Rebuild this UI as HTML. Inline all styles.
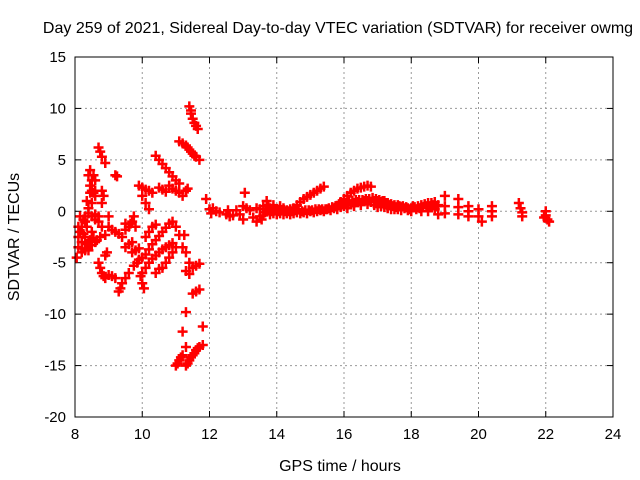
<!DOCTYPE html>
<html><head><meta charset="utf-8"><style>
body{margin:0;background:#fff;}
svg{display:block;font-family:"Liberation Sans",sans-serif;}
</style></head><body>
<svg id="chart" width="640" height="480">
<text x="338" y="33" font-size="16" text-anchor="middle">Day 259 of 2021, Sidereal Day-to-day VTEC variation (SDTVAR) for receiver owmg</text>
<text x="340" y="471" font-size="16" text-anchor="middle">GPS time / hours</text>
<text transform="translate(19,237) rotate(-90)" font-size="16" text-anchor="middle">SDTVAR / TECUs</text>
<g id="grid"></g><g id="marks"></g>
<rect x="75" y="57" width="538" height="360" fill="none" stroke="#000" stroke-width="1"/>
</svg>
<script>
const xTicks=[8,10,12,14,16,18,20,22,24];
const yTicks=[15,10,5,0,-5,-10,-15,-20];
const leftCluster=[[8.05,-4.5],[8.1,-3.5],[8.1,-2.5],[8.15,-2],[8.2,-1.5],[8.2,-3],[8.25,-0.8],[8.3,-0.5],[8.35,-3.2],[8.4,-3],[8.45,-2.8],[8.5,-3.3],[8.3,-2.5],[8.4,0.3],[8.45,1.8],[8.5,2],[8.55,1.8],[8.4,3.5],[8.45,4],[8.55,3.5],[8.6,3],[8.4,-0.2],[8.5,-0.5],[8.6,-0.3],[8.7,-1],[8.3,-3.8],[8.2,-4],[8.15,-0.5],[8.35,-1.5],[8.5,-2],[8.6,-3],[8.45,2.5],[8.5,0.8],[8.35,1],[8.6,1.5],[8.25,-2.2],[8.4,-3.8],[8.55,-2.6],[8.65,-2.8],[8.3,-1],[8.1,-1.5],[8.2,-3.6],[8.45,-3.3],[8.5,3],[8.6,-0.8],[8.6,2]];
const midCluster=[[8.7,6.2],[8.75,5.8],[8.8,5.3],[8.9,4.7],[8.8,2],[8.85,1.5],[8.8,0.8],[8.7,-0.5],[8.8,-1.5],[8.9,-2.3],[8.75,-2.5],[8.7,-5],[8.75,-5.5],[8.8,-6],[8.85,-6.3],[8.9,-6.5],[8.9,-4.3],[8.95,-4],[9,-6.2],[9.1,-6.3],[9.2,-6.5],[9,-0.5],[9,-1.5],[9.1,-1.8],[9.2,-2],[9.3,-2.2],[9.4,-2.5],[9.2,3.5],[9.25,3.4],[9.3,-7.8],[9.35,-7.5],[9.4,-7],[9.5,-6.5],[9.6,-6],[9.5,-3.5],[9.6,-3.2],[9.7,-3],[9.5,-1.8],[9.6,-1.5],[9.65,-1.2],[9.7,-1],[9.75,-0.5],[9.8,-1.5],[9.7,-4],[9.8,-3.8],[9.9,-3.6],[9.5,-1.2],[9.75,-5.3],[9.85,-5],[9.9,-4.7],[9.95,-6.3],[10,-6],[10.1,-5.5],[10.2,-5],[10.3,-4.6],[10.4,-4.3],[10.5,-4],[10.6,-3.7],[10.7,-3.5],[10.8,-3.3],[10.9,-3.1],[10,-7],[10.05,-7.5],[10.1,-2.5],[10.2,-2],[10.3,-1.5],[10.4,-1.3],[10,-4.5],[10.1,-4.2],[10.2,-3.7],[10.3,-3.2],[10.4,-2.8],[10.5,-2.4],[10.6,-2],[10.7,-1.6],[10.8,-1.2],[10.9,-1],[9.9,2.5],[10,2.3],[10.1,2.1],[10.2,2],[10.3,1.8],[10,1.5],[10.1,0.8],[10.2,0.2],[10.4,5.4],[10.5,5],[10.6,4.6],[10.7,4.2],[10.8,3.8],[10.9,3.4],[11,3],[11.1,2.7],[10.5,2.3],[10.6,2.1],[10.7,1.9],[10.8,2.5],[10.9,2.2],[11,2],[11.1,1.8],[11.2,1.5],[11.3,2],[11.35,2.2],[11.1,6.8],[11.2,6.6],[11.3,6.4],[11.4,6],[11.5,5.6],[11.6,5.3],[11.7,5],[11.4,10.2],[11.45,9.5],[11.5,9],[11.55,8.6],[11.6,8.3],[11.65,8],[11,-1.5],[11.1,-2.3],[11.2,-3.5],[11.3,-4],[11.4,-5],[11.5,-5.5],[11.6,-5.3],[11.7,-5.1],[11.3,-5.8],[11.4,-6.1],[10.6,-5.5],[10.7,-5],[10.8,-4.5],[10.9,-4],[11,-3.5],[10.4,-6],[10.5,-5.6],[11.5,-8],[11.6,-7.8],[11.7,-7.6],[11.3,-9.8],[11.2,-11.7],[11.8,-11.2],[11,-15],[11.1,-14.5],[11.2,-14],[11.3,-13.2],[11.3,-15],[11.4,-14.5],[11.5,-14],[11.6,-13.5],[11.7,-13.2],[11.8,-13],[11.25,-2.3],[11.9,1.2],[11.05,-14.8],[11.15,-14.2],[11.35,-14.8],[11.45,-14.2],[11.55,-13.8],[11.65,-13.3],[11.45,9.8],[11.35,6.2],[11.45,5.8],[11.55,5.4]];
const rightBand=[[12,0.2],[12.05,-0.2],[12.1,0.3],[12.2,0],[12.3,-0.1],[12.5,-0.3],[12.55,0.1],[12.6,-0.5],[12.7,-0.4],[12.8,0.1],[12.9,-0.3],[13,0.5],[13,-0.8],[13.05,1.8],[13.1,0.3],[13.2,0.1],[13.3,-0.6],[13.4,-1],[13.4,0.3],[13.5,-0.5],[13.6,0.5],[13.6,-0.4],[13.7,1],[13.7,0.2],[13.8,0.3],[13.8,-0.3],[13.9,0.6],[13.9,-0.2],[14,0.2],[14,-0.3],[14.1,0.5],[14.1,-0.2],[14.2,0.3],[14.2,-0.3],[14.3,0.1],[14.3,-0.2],[14.4,0.2],[14.4,-0.3],[14.5,0.3],[14.5,-0.2],[14.6,0.6],[14.6,-0.1],[14.7,0.9],[14.7,-0.2],[14.8,1.2],[14.8,-0.1],[14.9,1.4],[14.9,-0.2],[15,1.6],[15,0],[15.1,1.8],[15.1,-0.1],[15.2,2],[15.2,0],[15.3,2.2],[15.3,0.1],[15.4,2.4],[15.4,0],[15.5,0.2],[15.6,0.1],[15.7,0.3],[15.8,0.5],[15.8,0.2],[15.9,0.9],[15.9,0.4],[16,1.2],[16,0.5],[16.1,1.5],[16.1,0.6],[16.2,1.8],[16.2,0.7],[16.3,2],[16.3,0.8],[16.4,2.2],[16.4,0.9],[16.5,2.3],[16.5,0.8],[16.6,2.4],[16.6,1],[16.7,2.5],[16.7,1],[16.8,2.4],[16.8,0.9],[16.9,1],[17,1],[17,0.4],[17.1,0.9],[17.2,1],[17.2,0.4],[17.3,0.8],[17.4,0.7],[17.4,0.2],[17.5,0.6],[17.6,0.6],[17.6,0.2],[17.7,0.4],[17.8,0.3],[17.9,0.3],[18,0.3],[18,0],[18.1,0.4],[18.2,0.5],[18.3,0.6],[18.3,0],[18.4,0.7],[18.5,0.8],[18.5,0],[18.6,0.8],[18.7,0.9],[18.7,0.2],[18.8,0.6],[18.8,-0.3],[19,1.5],[19,0.5],[19,-0.2],[19.4,1.2],[19.4,0.4],[19.4,-0.3],[19.7,0.5],[19.7,0],[19.7,-0.5],[20,0.2],[20,-0.5],[20.1,-1],[20.4,0.5],[20.4,0],[20.4,-0.5],[21.2,0.8],[21.25,0.3],[21.3,-0.1],[21.3,-0.5],[22,0],[22,-0.4],[22.05,-0.8],[22.1,-1],[21.95,-0.6]];
const bandExtra=[[13.5,0.2],[13.55,-0.8],[13.65,-0.1],[13.75,0.6],[13.85,0],[13.95,0.2],[14.05,0],[14.15,0.1],[14.25,0],[14.35,0],[14.45,0],[14.55,0.1],[14.65,0.2],[14.75,0],[14.85,0.1],[14.95,0.1],[15.05,0.1],[15.15,0.2],[15.25,0.2],[15.35,0.2],[15.45,0.2],[15.55,0.3],[15.65,0.4],[15.75,0.5],[15.85,0.7],[15.95,0.7],[16.05,0.8],[16.15,1],[16.25,1],[16.35,1.1],[16.45,1.1],[16.55,1.1],[16.65,1.2],[16.75,1.2],[16.85,1.3],[16.95,1.2],[17.05,1.1],[17.15,1],[17.25,0.8],[17.35,0.6],[17.45,0.5],[17.55,0.4],[17.65,0.5],[17.75,0.5],[17.85,0.4],[17.95,0.2],[18.05,0.5],[18.15,0.2],[18.25,0.3],[18.35,0.4],[18.45,0.5],[18.55,0.5],[18.65,0.6],[18.75,0.5],[16.9,0.6],[17.1,0.5],[17.3,0.3],[17.5,0.2],[17.7,0.1],[17.9,0.1],[16.1,0.3],[16.3,0.5],[16.5,0.6],[16.7,0.7]];
const x0=75,x1=613,y0=57,y1=417;
function xs(v){return x0+(v-8)/(24-8)*(x1-x0);}
function ys(v){return y0+(15-v)/(15-(-20))*(y1-y0);}
const NS='http://www.w3.org/2000/svg';
const grid=document.getElementById('grid');
const marks=document.getElementById('marks');
function mk(tag,attrs,parent){const e=document.createElementNS(NS,tag);for(const k in attrs)e.setAttribute(k,attrs[k]);parent.appendChild(e);return e;}
xTicks.forEach(t=>{const x=xs(t);
 if(t>8&&t<24){const l=mk('line',{x1:x,x2:x,y1:y0,y2:y1,stroke:'#999','stroke-dasharray':'2,3'},grid);
 
 }
 mk('line',{x1:x,x2:x,y1:y1,y2:y1-6,stroke:'#000'},grid);
 mk('line',{x1:x,x2:x,y1:y0,y2:y0+6,stroke:'#000'},grid);
 const tx=mk('text',{x:x,y:y1+22,'font-size':15,'text-anchor':'middle'},grid);tx.textContent=t;
 
 });
yTicks.forEach(t=>{const y=ys(t);
 if(t<15&&t>-20){const l=mk('line',{x1:x0,x2:x1,y1:y,y2:y,stroke:'#999','stroke-dasharray':'2,3'},grid);
 
 }
 mk('line',{x1:x0,x2:x0+6,y1:y,y2:y,stroke:'#000'},grid);
 mk('line',{x1:x1,x2:x1-6,y1:y,y2:y,stroke:'#000'},grid);
 const tx=mk('text',{x:x0-9,y:y+5,'font-size':15,'text-anchor':'end'},grid);tx.textContent=t;
 
 });
[leftCluster,midCluster,rightBand,bandExtra].forEach(arr=>arr.forEach(p=>{
 const cx=xs(p[0]),cy=ys(p[1]);
 const g=mk('path',{d:`M${cx-5},${cy}H${cx+5}M${cx},${cy-5}V${cy+5}`,stroke:'#f00','stroke-width':2.5,fill:'none'},marks);
 
 }));
</script>
</body></html>
